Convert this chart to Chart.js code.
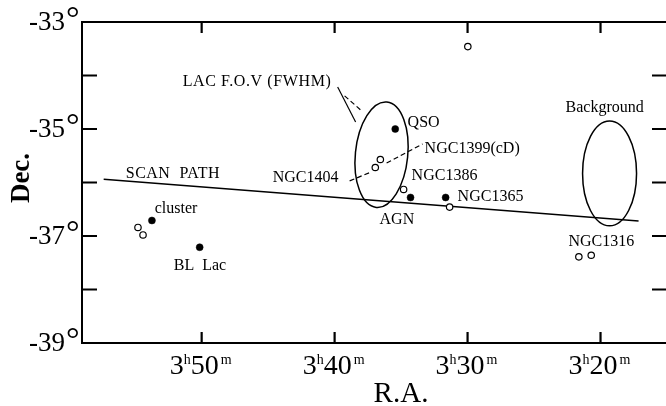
<!DOCTYPE html>
<html><head><meta charset="utf-8">
<script src="https://cdn.jsdelivr.net/npm/chart.js@4/dist/chart.umd.min.js"></script>
<style>
html,body{margin:0;padding:0;background:#fff;overflow:hidden;width:666px;height:406px}
#wrap{width:680px;height:406px;position:relative}
</style></head>
<body><div id="wrap"><canvas id="c" width="680" height="406"></canvas></div>
<script>
// ---- data (R.A. in minutes past 3h, Dec. in degrees) ----
const filledNames = ['QSO', 'AGN', 'NGC1365', 'cluster', 'BL Lac'];
const filledRA    = [35.44, 34.29, 31.65, 53.74, 50.15];
const filledDec   = [-35.00, -36.28, -36.28, -36.71, -37.21];

const openNames = ['source', 'NGC1399(cD)', 'NGC1404', 'NGC1386', 'NGC1365 field', 'cluster a', 'cluster b', 'NGC1316 a', 'NGC1316 b'];
const openRA    = [29.98, 36.56, 36.94, 34.81, 31.35, 54.79, 54.41, 21.63, 20.70];
const openDec   = [-33.46, -35.57, -35.72, -36.13, -36.46, -36.84, -36.98, -37.39, -37.36];

const scanRA  = [57.37, 17.14];
const scanDec = [-35.94, -36.72];

const fovNames   = ['LAC F.O.V (FWHM)', 'Background'];
const fovRA      = [36.47, 19.32];
const fovDec     = [-35.48, -35.83];
const fovHalfRA  = [1.97, 2.03];
const fovHalfDec = [0.99, 0.98];

const xTickValues  = [50, 40, 30, 20];
const xTickHours   = ['3', '3', '3', '3'];
const xTickMinutes = ['50', '40', '30', '20'];
const yTickValues  = [-34, -35, -36, -37, -38];
const yLabelValues = [-33, -35, -37, -39];
const yTickLabels  = ['-33', '-35', '-37', '-39'];

const xTitle = 'R.A.';
const yTitle = 'Dec.';

// annotation texts, anchored at data coordinates (left edge, middle)
const noteTexts = ['LAC F.O.V (FWHM)', 'QSO', 'NGC1399(cD)', 'NGC1404', 'NGC1386', 'NGC1365', 'AGN', 'SCAN  PATH', 'cluster', 'BL  Lac', 'Background', 'NGC1316'];
const noteRA    = [51.43, 34.51, 33.23, 44.66, 34.21, 30.75, 36.62, 55.71, 53.53, 52.10, 22.63, 22.41];
const noteDec   = [-34.12, -34.89, -35.37, -35.92, -35.88, -36.27, -36.70, -35.84, -36.50, -37.56, -34.61, -37.11];
const noteSpacing = [0.6, 0, 0, 0, 0, 0, 0, 0.5, 0, 0, 0, 0];

// leader lines
const leaderFromRA  = [39.77, 39.25, 36.09, 38.87];
const leaderFromDec = [-34.215, -34.38, -35.636, -35.97];
const leaderToRA    = [38.42, 37.97, 33.38, 37.22];
const leaderToDec   = [-34.87, -34.66, -35.28, -35.80];
const leaderDashed  = [false, true, true, true];

const SERIF = "'Liberation Serif', 'Times New Roman', serif";

const deco = {
  id: 'deco',
  afterDatasetsDraw(chart) {
    const ctx = chart.ctx, xs = chart.scales.x, ys = chart.scales.y;
    ctx.save();
    ctx.strokeStyle = '#000';
    ctx.lineWidth = 1.5;
    const rot = [0.10, 0];
    for (let i = 0; i < fovRA.length; i++) {
      const cx = xs.getPixelForValue(fovRA[i]), cy = ys.getPixelForValue(fovDec[i]);
      const rx = Math.abs(xs.getPixelForValue(fovRA[i] + fovHalfRA[i]) - cx);
      const ry = Math.abs(ys.getPixelForValue(fovDec[i] + fovHalfDec[i]) - cy);
      ctx.beginPath();
      ctx.ellipse(cx, cy, rx, ry, rot[i], 0, Math.PI * 2);
      ctx.stroke();
    }
    ctx.lineWidth = 1.2;
    for (let i = 0; i < leaderFromRA.length; i++) {
      ctx.setLineDash(leaderDashed[i] ? [5, 3] : []);
      ctx.beginPath();
      ctx.moveTo(xs.getPixelForValue(leaderFromRA[i]), ys.getPixelForValue(leaderFromDec[i]));
      ctx.lineTo(xs.getPixelForValue(leaderToRA[i]), ys.getPixelForValue(leaderToDec[i]));
      ctx.stroke();
    }
    ctx.setLineDash([]);
    ctx.fillStyle = '#000';
    ctx.font = '16px ' + SERIF;
    ctx.textAlign = 'left';
    ctx.textBaseline = 'middle';
    for (let i = 0; i < noteTexts.length; i++) {
      ctx.letterSpacing = noteSpacing[i] + 'px';
      ctx.fillText(noteTexts[i], xs.getPixelForValue(noteRA[i]), ys.getPixelForValue(noteDec[i]));
    }
    ctx.letterSpacing = '0px';
    ctx.restore();
  },
  afterDraw(chart) {
    const ctx = chart.ctx, a = chart.chartArea, xs = chart.scales.x, ys = chart.scales.y;
    ctx.save();
    ctx.strokeStyle = '#000';
    ctx.fillStyle = '#000';
    ctx.lineWidth = 2;
    ctx.strokeRect(a.left, a.top, a.right - a.left, a.bottom - a.top);
    // inward ticks
    ctx.lineWidth = 2.2;
    ctx.beginPath();
    yTickValues.forEach(v => {
      const y = ys.getPixelForValue(v);
      ctx.moveTo(a.left, y); ctx.lineTo(a.left + 15, y);
      ctx.moveTo(a.right, y); ctx.lineTo(a.right - 15, y);
    });
    xTickValues.forEach(v => {
      const x = xs.getPixelForValue(v);
      ctx.moveTo(x, a.top); ctx.lineTo(x, a.top + 11);
      ctx.moveTo(x, a.bottom); ctx.lineTo(x, a.bottom - 11);
    });
    ctx.stroke();
    // y labels with degree sign
    yLabelValues.forEach((v, i) => {
      const y = ys.getPixelForValue(v);
      ctx.font = '27px ' + SERIF;
      ctx.textAlign = 'right';
      ctx.textBaseline = 'middle';
      ctx.fillText(yTickLabels[i], 65, y + 1);
      ctx.font = '34px ' + SERIF;
      ctx.textAlign = 'left';
      ctx.textBaseline = 'alphabetic';
      ctx.fillText('\u00B0', 66, y + 7);
    });
    // x labels with superscripts
    ctx.textBaseline = 'alphabetic';
    ctx.textAlign = 'left';
    xTickValues.forEach((v, i) => {
      const x = xs.getPixelForValue(v);
      const big = '28px ' + SERIF, small = '14px ' + SERIF;
      ctx.font = big; const w1 = ctx.measureText(xTickHours[i]).width;
      const w3 = ctx.measureText(xTickMinutes[i]).width;
      ctx.font = small; const w2 = ctx.measureText('h').width, w4 = ctx.measureText('m').width;
      const total = w1 + w2 + w3 + w4 + 2;
      let cx = x - total / 2 - 1;
      const base = 374;
      ctx.font = big; ctx.fillText(xTickHours[i], cx, base); cx += w1;
      ctx.font = small; ctx.fillText('h', cx, base - 10); cx += w2;
      ctx.font = big; ctx.fillText(xTickMinutes[i], cx, base); cx += w3 + 2;
      ctx.font = small; ctx.fillText('m', cx, base - 10);
    });
    // axis titles
    ctx.font = '29px ' + SERIF;
    ctx.textAlign = 'center';
    ctx.textBaseline = 'middle';
    ctx.fillText(xTitle, 401, 394);
    ctx.save();
    ctx.translate(22, 178);
    ctx.rotate(-Math.PI / 2);
    ctx.font = 'bold 27px ' + SERIF;
    ctx.fillText(yTitle, 0, 0);
    ctx.restore();
    ctx.restore();
  }
};

new Chart(document.getElementById('c'), {
  type: 'scatter',
  data: {
    datasets: [
      {
        label: 'filled',
        data: filledRA.map((r, i) => ({ x: r, y: filledDec[i] })),
        pointRadius: 3.5, pointBackgroundColor: '#000', pointBorderColor: '#000', pointBorderWidth: 0.5
      },
      {
        label: 'open',
        data: openRA.map((r, i) => ({ x: r, y: openDec[i] })),
        pointRadius: 3.2, pointBackgroundColor: '#fff', pointBorderColor: '#000', pointBorderWidth: 1.2
      },
      {
        label: 'SCAN PATH',
        data: scanRA.map((r, i) => ({ x: r, y: scanDec[i] })),
        showLine: true, pointRadius: 0, borderColor: '#000', borderWidth: 1.4
      }
    ]
  },
  options: {
    responsive: false,
    animation: false,
    devicePixelRatio: 1,
    layout: { padding: { left: 82, top: 22, right: 13, bottom: 63 } },
    scales: {
      x: { type: 'linear', display: false, min: 15, max: 59, reverse: true },
      y: { type: 'linear', display: false, min: -39, max: -33 }
    },
    plugins: { legend: { display: false }, tooltip: { enabled: false } }
  },
  plugins: [deco]
});
</script>
</body></html>
